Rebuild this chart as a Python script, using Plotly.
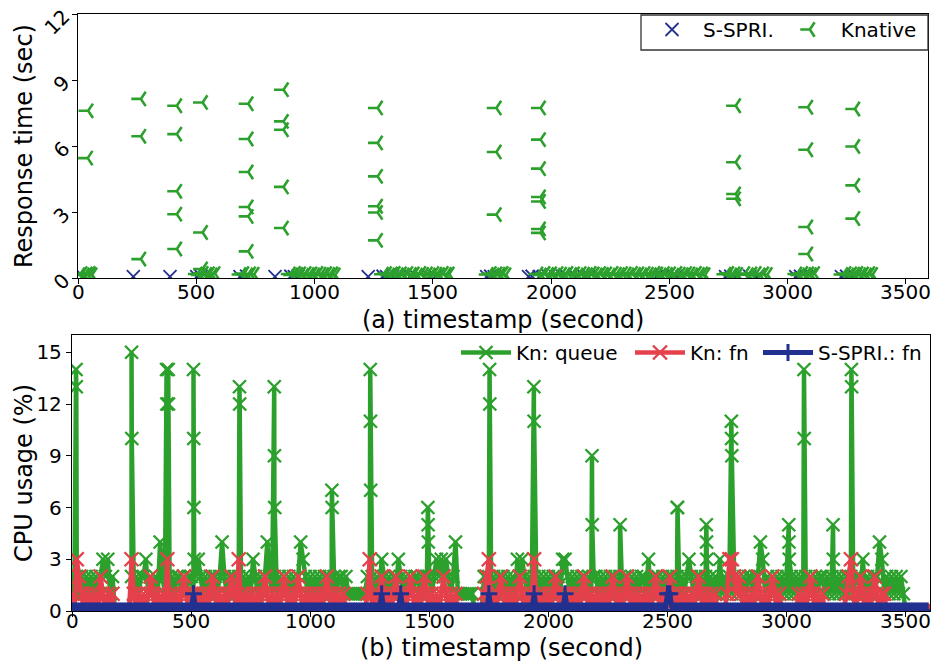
import plotly.graph_objects as go

# ---------------- (a) response time per request ----------------
# Knative requests (timestamp s, response time s)
KNATIVE_SLOW = [
    (43, 7.60), (41, 5.45),
    (266, 8.14), (266, 6.44), (266, 0.86),
    (418, 7.83), (418, 6.54), (418, 3.94), (418, 2.90), (418, 1.32),
    (527, 7.98), (527, 2.07), (527, 0.41),
    (720, 7.92), (720, 6.32), (720, 4.82), (720, 3.23), (720, 2.80), (720, 1.21),
    (869, 8.56), (869, 7.12), (869, 6.74), (869, 4.14), (869, 2.27),
    (1267, 7.73), (1267, 6.14), (1267, 4.62), (1267, 3.26), (1267, 2.98), (1267, 1.71),
    (1769, 7.73), (1769, 5.73), (1769, 2.88),
    (1956, 7.73), (1956, 6.29), (1956, 4.97), (1956, 3.68), (1956, 3.48), (1956, 2.23), (1956, 2.05),
    (2781, 7.83), (2781, 5.26), (2781, 3.82), (2781, 3.60),
    (3086, 7.76), (3086, 5.83), (3086, 2.32), (3086, 1.09),
    (3285, 7.68), (3285, 5.98), (3285, 4.21), (3285, 2.70),
]
KNATIVE_FAST = [
    (8, .15), (18, .20), (28, .14), (40, .18), (52, .21), (60, .15),
    (505, .18), (518, .14), (530, .21), (545, .16), (556, .19), (568, .14), (580, .20),
    (690, .16), (702, .20), (718, .14), (730, .19), (745, .17),
    (898, .18), (908, .14), (920, .21), (930, .16), (942, .19), (955, .13), (965, .20),
    (978, .16), (990, .18), (1002, .14), (1015, .21), (1028, .17), (1040, .15), (1052, .20),
    (1065, .16), (1078, .19), (1088, .14),
    (1292, .17), (1305, .20), (1318, .14), (1330, .18), (1342, .21), (1355, .15), (1368, .19),
    (1380, .14), (1395, .20), (1410, .16), (1422, .18), (1436, .13), (1450, .21), (1462, .16),
    (1478, .19), (1490, .14), (1505, .20), (1518, .17), (1530, .15), (1545, .21), (1558, .16),
    (1570, .18),
    (1735, .16), (1748, .20), (1760, .14), (1772, .19), (1785, .17), (1798, .21), (1810, .15),
    (1945, .18), (1960, .14), (1975, .21), (1990, .16), (2003, .19), (2018, .13), (2030, .20),
    (2045, .17), (2060, .15), (2072, .21), (2088, .16), (2100, .19), (2115, .14), (2128, .20),
    (2142, .17), (2155, .15), (2170, .21), (2183, .18), (2196, .14), (2210, .20), (2222, .16),
    (2236, .19), (2250, .13), (2263, .21), (2277, .17), (2290, .15), (2303, .20), (2318, .18),
    (2330, .14), (2345, .21), (2358, .16), (2372, .19), (2385, .14), (2398, .20), (2412, .17),
    (2425, .15), (2440, .21), (2452, .18), (2466, .14), (2480, .20), (2493, .16), (2506, .19),
    (2520, .13), (2533, .21), (2547, .17), (2560, .15), (2574, .20), (2588, .18), (2600, .14),
    (2615, .21), (2628, .16), (2642, .19), (2652, .15),
    (2740, .17), (2752, .21), (2765, .14), (2778, .19), (2790, .16), (2820, .20), (2835, .15),
    (2850, .18), (2868, .21), (2885, .14), (2900, .19), (2915, .16),
    (3040, .18), (3052, .14), (3065, .21), (3078, .16), (3090, .19), (3102, .15), (3115, .20),
    (3235, .16), (3248, .20), (3260, .14), (3272, .19), (3285, .17), (3298, .21), (3310, .15),
    (3322, .18), (3335, .14), (3348, .20), (3360, .16),
]
SSPRI_RT = [
    (22, .06), (234, .06), (389, .06), (502, .06), (520, .08), (557, .06), (685, .06),
    (713, .08), (833, .06), (900, .08), (915, .06), (930, .08), (1227, .06), (1290, .08),
    (1305, .06), (1330, .08), (1350, .06), (1405, .08), (1430, .06), (1485, .06), (1510, .08),
    (1728, .06), (1745, .08), (1760, .06), (1905, .06), (1920, .08), (1950, .06), (1990, .08),
    (2020, .06), (2050, .08), (2105, .06), (2140, .08), (2160, .06), (2445, .06), (2470, .08),
    (2510, .06), (2530, .08), (2555, .06), (2600, .08), (2738, .06), (2760, .08), (2775, .06),
    (2840, .08), (2870, .06), (3035, .06), (3055, .08), (3080, .06), (3228, .06), (3250, .08),
    (3270, .06), (3285, .08),
]

# ---------------- (b) CPU usage, one digit per 10 s sample ----------------
SAMPLE_STEP = 10
KN_QUEUE_CPU = (
    "2121212121 2123231200 0000021212 2312121421 2121221212 "
    "2123212121 2124212121 2121213212 1242121212 1212124321 "
    "2121212121 2122121111 1111212121 3212121321 2121221212 "
    "2123232321 2411111110 0002121212 1212121323 2121212121 "
    "2121213321 2121221212 2121212121 2122121212 2131212121 "
    "2121212123 2121212121 2131212121 2121221224 3121212121 "
    "2121212121 2121221212 1212121212 2131212124 3121212121 "
    "0000000000"
)
# short bursts of the queue proxy: (start s, consecutive 1 s readings)
KN_QUEUE_BURSTS = [
    (17, [14, 13]), (250, [15, 10]), (397, [14, 12]), (404, [14, 12]),
    (510, [14, 10, 6, 3]), (703, [13, 12]), (849, [13, 9, 6]), (1091, [7, 6]),
    (1252, [14, 11, 7]), (1494, [6, 5, 4]), (1753, [14, 12]), (1939, [13, 11]),
    (2183, [9, 5]), (2301, [5]), (2541, [6, 6]), (2663, [5, 4, 3]),
    (2768, [11, 10, 9]), (3009, [5, 4, 3]), (3073, [14, 10]), (3195, [5, 3]),
    (3272, [14, 13]),
]
KN_FN_CPU = (
    "1032101010 1021010100 0000031010 1012101010 3010101210 "
    "1010101012 1010101210 3010101010 1210101012 1010121010 "
    "1010101210 1010100000 0000130101 2101012101 0121010121 "
    "0101012101 0100000000 0001230101 2101010121 0101301010 "
    "1012101010 1010121010 1010101210 1012101010 1010121010 "
    "1210101010 1012101010 1000013321 2101010121 0101210100 "
    "0000010101 2101010000 0000012310 1210101210 1100000000 "
    "0000000000"
)
SSPRI_FN_CPU = (
    "0000000000 0000000000 0000000000 0000000000 0000000000 "
    "0100000000 0000000000 0000000000 0000000000 0000000000 "
    "0000000000 0000000000 0000000000 1000000010 0000000000 "
    "0000000000 0000000000 0000010000 0000000000 0000100000 "
    "0000000100 0000000000 0000000000 0000000000 0000000000 "
    "1100000000 0000000000 0000000000 0000000000 0000000000 "
    "0000000000 0000000000 0000000000 0000000000 0000000000 "
    "0000000000"
)
X_TICKS = [0, 500, 1000, 1500, 2000, 2500, 3000, 3500]

GREEN = "#2ca02c"
RED = "#e5404b"
NAVY = "#22308f"
FONT = "DejaVu Sans"
W, H = 938, 662


def cpu_series(codes, bursts=()):
    digits = codes.replace(" ", "")
    pts = [(SAMPLE_STEP * i, int(c)) for i, c in enumerate(digits)]
    for t0, vals in bursts:
        for k, v in enumerate(vals):
            pts.append((t0 + k, v))
    pts.sort(key=lambda p: p[0])
    return [p[0] for p in pts], [p[1] for p in pts]


def px_x(px):
    return px / W


def px_y(py):
    return 1 - py / H


fig = go.Figure()

# (a) scatter of response times
fig.add_trace(go.Scatter(
    x=[p[0] for p in SSPRI_RT], y=[p[1] for p in SSPRI_RT],
    mode="markers", name="S-SPRI.", xaxis="x", yaxis="y", legend="legend",
    marker=dict(symbol="x-thin", size=13, color=NAVY, line=dict(color=NAVY, width=1.8)),
))
kn_all = KNATIVE_SLOW + KNATIVE_FAST
fig.add_trace(go.Scatter(
    x=[p[0] for p in kn_all], y=[p[1] for p in kn_all],
    mode="markers", name="Knative", xaxis="x", yaxis="y", legend="legend",
    marker=dict(symbol="y-left", size=12, color=GREEN, line=dict(color=GREEN, width=2.6)),
))

# (b) CPU usage lines, one legend per entry so each sits where it belongs
qx, qy = cpu_series(KN_QUEUE_CPU, KN_QUEUE_BURSTS)
fx, fy = cpu_series(KN_FN_CPU)
sx, sy = cpu_series(SSPRI_FN_CPU)
fig.add_trace(go.Scatter(
    x=qx, y=qy, mode="lines+markers", name="Kn: queue", xaxis="x2", yaxis="y2",
    legend="legend2", line=dict(color=GREEN, width=4.5),
    marker=dict(symbol="x-thin", size=13, color=GREEN, line=dict(color=GREEN, width=2.4)),
))
fig.add_trace(go.Scatter(
    x=fx, y=fy, mode="lines+markers", name="Kn: fn", xaxis="x2", yaxis="y2",
    legend="legend3", line=dict(color=RED, width=4.5),
    marker=dict(symbol="x-thin", size=14, color=RED, line=dict(color=RED, width=2.4)),
))
fig.add_trace(go.Scatter(
    x=sx, y=sy, mode="lines+markers", name="S-SPRI.: fn", xaxis="x2", yaxis="y2",
    legend="legend4", line=dict(color=NAVY, width=5),
    marker=dict(symbol="cross-thin", size=12, color=NAVY, line=dict(color=NAVY, width=3)),
))

axis_common = dict(
    showline=True, mirror=True, linecolor="black", linewidth=1.3,
    ticks="outside", ticklen=5, tickwidth=1.2, tickcolor="black",
    showgrid=False, zeroline=False, automargin=False,
    tickfont=dict(size=20, family=FONT, color="black"),
)

bottom_legend = dict(orientation="h", xanchor="left", y=px_y(333), yanchor="top",
                     bgcolor="rgba(255,255,255,0)", borderwidth=0,
                     font=dict(size=20, family=FONT), itemwidth=50)

# x tick labels and axis titles placed as text annotations
notes = []
for v in X_TICKS:
    notes.append(dict(text=str(v), xref="x", yref="paper", x=v, y=px_y(292),
                      showarrow=False, font=dict(size=20), xanchor="center", yanchor="middle"))
    notes.append(dict(text=str(v), xref="x2", yref="paper", x=v, y=px_y(621),
                      showarrow=False, font=dict(size=20), xanchor="center", yanchor="middle"))
notes += [
    dict(text="(a) timestamp (second)", xref="paper", yref="paper",
         x=px_x(503), y=px_y(320), showarrow=False, font=dict(size=24),
         xanchor="center", yanchor="middle"),
    dict(text="(b) timestamp (second)", xref="paper", yref="paper",
         x=px_x(501), y=px_y(648), showarrow=False, font=dict(size=24),
         xanchor="center", yanchor="middle"),
    dict(text="Response time (sec)", xref="paper", yref="paper",
         x=px_x(24), y=px_y(146), showarrow=False, font=dict(size=24),
         textangle=-90, xanchor="center", yanchor="middle"),
    dict(text="CPU usage (%)", xref="paper", yref="paper",
         x=px_x(24), y=px_y(473), showarrow=False, font=dict(size=24),
         textangle=-90, xanchor="center", yanchor="middle"),
]

fig.update_layout(
    width=W, height=H, margin=dict(l=0, r=0, t=0, b=0, autoexpand=False),
    paper_bgcolor="white", plot_bgcolor="white",
    font=dict(family=FONT, color="black"),
    xaxis=dict(axis_common, domain=[px_x(78), px_x(928)], anchor="y", range=[0, 3594],
               tickvals=X_TICKS, showticklabels=False),
    yaxis=dict(axis_common, domain=[px_y(278), px_y(14)], anchor="x", range=[0, 12],
               tickvals=[0, 3, 6, 9, 12], tickangle=-45, ticklabelstandoff=4),
    xaxis2=dict(axis_common, domain=[px_x(72), px_x(930)], anchor="y2", range=[0, 3602],
                tickvals=X_TICKS, showticklabels=False),
    yaxis2=dict(axis_common, domain=[px_y(611), px_y(335)], anchor="x2", range=[0, 16],
                tickvals=[0, 3, 6, 9, 12, 15]),
    legend=dict(orientation="h", x=px_x(641), xanchor="left", y=px_y(10), yanchor="top",
                bgcolor="rgba(255,255,255,0)", borderwidth=0,
                font=dict(size=20, family=FONT), itemwidth=52),
    legend2=dict(bottom_legend, x=px_x(456)),
    legend3=dict(bottom_legend, x=px_x(630)),
    legend4=dict(bottom_legend, x=px_x(758)),
    shapes=[dict(type="rect", xref="paper", yref="paper",
                 x0=px_x(641), x1=px_x(928), y0=px_y(50), y1=px_y(15),
                 fillcolor="white", line=dict(color="#333333", width=1.3), layer="above")],
    annotations=notes,
)

fig.write_html("out.html")
